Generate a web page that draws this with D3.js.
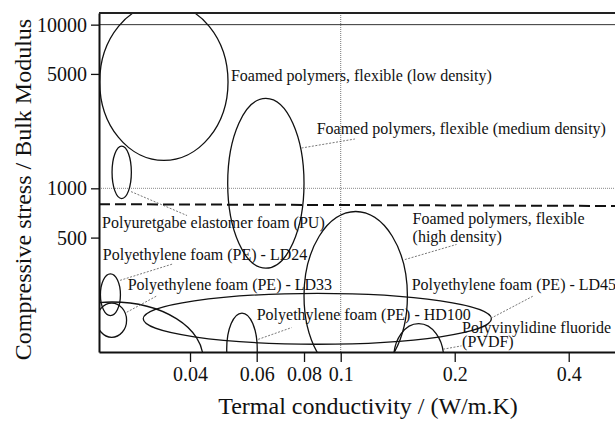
<!DOCTYPE html>
<html>
<head>
<meta charset="utf-8">
<script src="https://cdn.jsdelivr.net/npm/d3@7"></script>
<style>
  body { margin: 0; background: #fff; }
  svg { font-family: "Liberation Serif", "Times New Roman", serif; }
</style>
</head>
<body>
<div id="chart"></div>
<script>
// material regions (thermal conductivity W/m.K, compressive stress)
const regionNames = [
    "Foamed polymers, flexible (low density)",
    "Foamed polymers, flexible (medium density)",
    "Polyuretgabe elastomer foam (PU)",
    "Foamed polymers, flexible (high density)",
    "Polyethylene foam (PE) - LD24",
    "Polyethylene foam (PE) - LD33",
    "Polyethylene foam (PE)",
    "Polyethylene foam (PE) - LD45",
    "Polyethylene foam (PE) - HD100",
    "Polyvinylidine fluoride (PVDF)"
];
const kMin = [0.0231, 0.0503, 0.0249, 0.0800, 0.0232, 0.0227, 0.0143, 0.0301, 0.0500, 0.138];
const kMax = [0.0504, 0.0800, 0.0280, 0.150, 0.0262, 0.0272, 0.0433, 0.250, 0.0602, 0.187];
const sMin = [1480, 325, 866, 67, 167, 123, 41, 111.5, 63, 56];
const sMax = [13500, 3545, 1810, 722, 300, 199, 202, 228, 173, 149];

// threshold line (dashed), from left to right end of the axis
const thresholdK = [0.023, 0.53];
const thresholdS = [800, 780];

const xTicks = [0.04, 0.06, 0.08, 0.1, 0.2, 0.4];
const yTicks = [500, 1000, 5000, 10000];

// labels with leader lines, all in data units
const labels = [
    {lines: ["Foamed polymers, flexible (low density)"], k: 0.0513, s: [4540]},
    {lines: ["Foamed polymers, flexible (medium density)"], k: 0.0864, s: [2156], from: [0.0788, 1763], to: [0.109, 2001]},
    {lines: ["Polyuretgabe elastomer foam (PU)"], k: 0.02344, s: [576], from: [0.02795, 955], to: [0.03928, 682]},
    {lines: ["Foamed polymers, flexible", "(high density)"], k: 0.1548, s: [605, 473], from: [0.1477, 367], to: [0.2022, 454]},
    {lines: ["Polyethylene foam (PE) - LD24"], k: 0.02354, s: [365], from: [0.02614, 274], to: [0.03614, 346]},
    {lines: ["Polyethylene foam (PE) - LD33"], k: 0.02739, s: [239], from: [0.02723, 175], to: [0.03267, 220]},
    {lines: ["Polyethylene foam (PE) - LD45"], k: 0.1540, s: [239], from: [0.249, 160.5], to: [0.3214, 219]},
    {lines: ["Polyethylene foam (PE) - HD100"], k: 0.0600, s: [156], from: [0.06056, 119.5], to: [0.0742, 141]},
    {lines: ["Polyvinylidine fluoride", "(PVDF)"], k: 0.2092, s: [130, 106.8], from: [0.1864, 104], to: [0.2084, 109]}
];

const width = 615, height = 421;
const margin = {left: 99, top: 13, right: 0, bottom: 69},
    w = width - margin.left - margin.right,
    h = height - margin.top - margin.bottom;

const svg = d3.select("#chart").append("svg")
        .attr("width", width)
        .attr("height", height)
    .append("g")
        .attr("transform", `translate(${margin.left}, ${margin.top})`);

const x = d3.scaleLog().domain([0.023, 0.53]).range([0, w]);
const y = d3.scaleLog().domain([100, 11780]).range([h, 0]);

svg.append("clipPath").attr("id", "plotClip")
    .append("rect").attr("width", w).attr("height", h);

// reference lines
svg.append("line")
    .attr("x1", 0).attr("x2", w)
    .attr("y1", y(10000)).attr("y2", y(10000))
    .attr("stroke", "#333").attr("stroke-width", 1);
svg.append("line")
    .attr("x1", 0).attr("x2", w)
    .attr("y1", y(1000)).attr("y2", y(1000))
    .attr("stroke", "#888").attr("stroke-width", 1)
    .attr("stroke-dasharray", "1,1");
svg.append("line")
    .attr("x1", x(0.1)).attr("x2", x(0.1))
    .attr("y1", 0).attr("y2", h)
    .attr("stroke", "#777").attr("stroke-width", 1)
    .attr("stroke-dasharray", "1,1");
svg.append("line")
    .attr("x1", x(thresholdK[0])).attr("x2", x(thresholdK[1]))
    .attr("y1", y(thresholdS[0])).attr("y2", y(thresholdS[1]))
    .attr("stroke", "#111").attr("stroke-width", 2)
    .attr("stroke-dasharray", "11,5");

// regions as ellipses in log-log space
const regions = regionNames.map((name, i) => ({name, k0: kMin[i], k1: kMax[i], s0: sMin[i], s1: sMax[i]}));
svg.append("g")
    .attr("clip-path", "url(#plotClip)")
    .selectAll("ellipse")
    .data(regions)
    .enter().append("ellipse")
    .attr("cx", d => (x(d.k0) + x(d.k1)) / 2)
    .attr("cy", d => (y(d.s0) + y(d.s1)) / 2)
    .attr("rx", d => (x(d.k1) - x(d.k0)) / 2)
    .attr("ry", d => (y(d.s0) - y(d.s1)) / 2)
    .attr("fill", "none")
    .attr("stroke", "#111")
    .attr("stroke-width", 1.3);

// leader lines
svg.selectAll(".leader")
    .data(labels.filter(d => d.from))
    .enter().append("line")
    .attr("class", "leader")
    .attr("x1", d => x(d.from[0])).attr("y1", d => y(d.from[1]))
    .attr("x2", d => x(d.to[0])).attr("y2", d => y(d.to[1]))
    .attr("stroke", "#555").attr("stroke-width", 0.8)
    .attr("stroke-dasharray", "2,1.5");

// labels
labels.forEach(function(lab) {
    lab.lines.forEach(function(line, j) {
        svg.append("text")
            .attr("x", x(lab.k))
            .attr("y", y(lab.s[j]))
            .attr("font-size", "16px")
            .attr("fill", "#111")
            .text(line);
    });
});

// axes
const xAxis = svg.append("g")
    .attr("transform", `translate(0, ${h})`)
    .call(d3.axisBottom(x)
        .tickValues(xTicks)
        .tickFormat(d3.format("~g"))
        .tickSize(10).tickSizeOuter(0).tickPadding(5));
const yAxis = svg.append("g")
    .call(d3.axisLeft(y)
        .tickValues(yTicks)
        .tickFormat(d3.format("d"))
        .tickSize(8).tickSizeOuter(0).tickPadding(4));

[xAxis, yAxis].forEach(function(ax) {
    ax.select(".domain").attr("stroke", "#111").attr("stroke-width", 2);
    ax.selectAll(".tick line").attr("stroke", "#111").attr("stroke-width", 1.3);
    ax.selectAll(".tick text")
        .attr("font-family", "'Liberation Serif', serif")
        .attr("font-size", "20px")
        .attr("fill", "#111");
});

// top border
svg.append("line")
    .attr("x1", 0).attr("x2", w)
    .attr("y1", 0).attr("y2", 0)
    .attr("stroke", "#222").attr("stroke-width", 2);

// axis titles
svg.append("text")
    .attr("x", w / 2 + 11)
    .attr("y", h + 62)
    .attr("text-anchor", "middle")
    .attr("font-size", "24px")
    .attr("fill", "#111")
    .text("Termal conductivity / (W/m.K)");

svg.append("text")
    .attr("transform", `translate(${31 - margin.left}, ${h / 2 + 7}) rotate(-90)`)
    .attr("text-anchor", "middle")
    .attr("font-size", "24px")
    .attr("fill", "#111")
    .text("Compressive stress / Bulk Modulus");
</script>
</body>
</html>
